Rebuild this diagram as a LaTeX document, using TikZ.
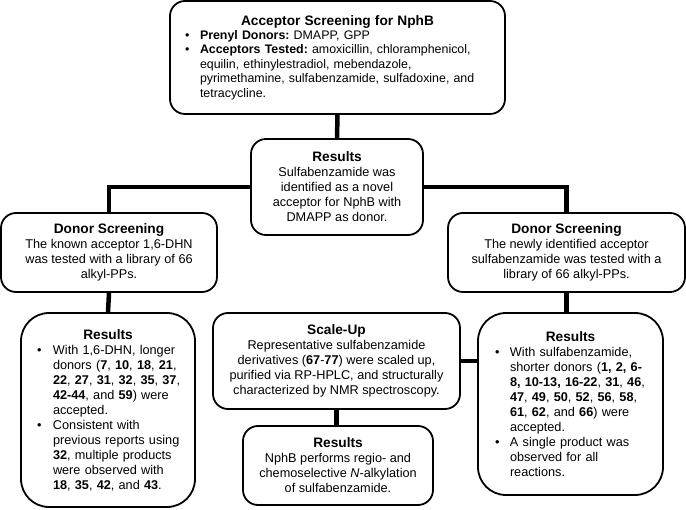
\documentclass[tikz,border=0pt]{standalone}
\usepackage{fontspec}
\setmainfont{Liberation Sans}
\frenchspacing
\newcommand\bodyfont{\fontsize{12.7}{15}\selectfont\frenchspacing}
\newcommand\topfont{\fontsize{12.4}{14.4}\selectfont\frenchspacing}
\newcommand\ttl[1]{{\fontsize{13.7}{15}\selectfont\bfseries #1}}
\newcommand\bul[1]{\noindent\hangindent=#1\hangafter=1\makebox[#1][l]{\hspace{2pt}\textbullet}\ignorespaces}
\begin{document}
\begin{tikzpicture}[x=1pt,y=-1pt,
  boxnode/.style={draw, line width=1.8pt, rounded corners=15pt, inner sep=0pt, align=center, font=\bodyfont},
  conn/.style={line width=4.5pt}]
\useasboundingbox (0,0) rectangle (686,510);

\node[boxnode, minimum width=335pt, minimum height=113pt, align=left, text width=309pt, font=\topfont] (top) at (337.5,57.5)
 {{\centering\ttl{Acceptor Screening for NphB}\par}
  \bul{17pt}\textbf{Prenyl Donors:} DMAPP, GPP\par
  \bul{17pt}\textbf{Acceptors Tested:} amoxicillin, chloramphenicol,\newline equilin, ethinylestradiol, mebendazole,\newline pyrimethamine, sulfabenzamide, sulfadoxine, and\newline tetracycline.\par};

\node[boxnode, minimum width=172pt, minimum height=96pt] (midres) at (337,187)
 {\ttl{Results}\\Sulfabenzamide was\\identified as a novel\\acceptor for NphB with\\DMAPP as donor.};

\node[boxnode, minimum width=216pt, minimum height=79pt] (ldonor) at (109,252.5)
 {\ttl{Donor Screening}\\The known acceptor 1,6-DHN\\was tested with a library of 66\\alkyl-PPs.};

\node[boxnode, minimum width=237pt, minimum height=79pt] (rdonor) at (566.5,252.5)
 {\ttl{Donor Screening}\\The newly identified acceptor\\sulfabenzamide was tested with a\\library of 66 alkyl-PPs.};

\node[boxnode, rounded corners=28pt, minimum width=174pt, minimum height=194pt, align=left, text width=146pt] (lres) at (108,410)
 {{\centering\ttl{Results}\par}
  \bul{18pt}With 1,6-DHN, longer\newline donors (\textbf{7}, \textbf{10}, \textbf{18}, \textbf{21},\newline \textbf{22}, \textbf{27}, \textbf{31}, \textbf{32}, \textbf{35}, \textbf{37},\newline \textbf{42-44}, and \textbf{59}) were\newline accepted.\par
  \bul{18pt}Consistent with\newline previous reports using\newline \textbf{32}, multiple products\newline were observed with\newline \textbf{18}, \textbf{35}, \textbf{42}, and \textbf{43}.\par};

\node[boxnode, minimum width=247pt, minimum height=96pt] (scaleup) at (336.5,361)
 {\ttl{Scale-Up}\\Representative sulfabenzamide\\derivatives (\textbf{67}-\textbf{77}) were scaled up,\\purified via RP-HPLC, and structurally\\characterized by NMR spectroscopy.};

\node[boxnode, minimum width=190pt, minimum height=79pt] (bres) at (338,465.5)
 {\ttl{Results}\\NphB performs regio- and\\chemoselective \textit{N}-alkylation\\of sulfabenzamide.};

\node[boxnode, rounded corners=28pt, minimum width=185pt, minimum height=182pt, align=left, text width=155pt] (rres) at (570.5,404)
 {{\centering\ttl{Results}\par}
  \bul{17pt}With sulfabenzamide,\newline shorter donors (\textbf{1, 2, 6-}\newline \textbf{8, 10-13, 16-22}, \textbf{31}, \textbf{46},\newline \textbf{47}, \textbf{49}, \textbf{50}, \textbf{52}, \textbf{56}, \textbf{58},\newline \textbf{61}, \textbf{62}, and \textbf{66}) were\newline accepted.\par
  \bul{17pt}A single product was\newline observed for all\newline reactions.\par};

\draw[conn] (top.south) -- (midres.north);
\draw[conn] (midres.west) -| (ldonor.north);
\draw[conn] (midres.east) -| (rdonor.north);
\draw[conn] (ldonor.south) -- (lres.north);
\draw[conn] (rdonor.south) -- (rdonor.south |- rres.north);
\draw[conn] (scaleup.south) -- (scaleup.south |- bres.north);
\draw[conn] (scaleup.east) -- (scaleup.east -| rres.west);
\end{tikzpicture}
\end{document}
